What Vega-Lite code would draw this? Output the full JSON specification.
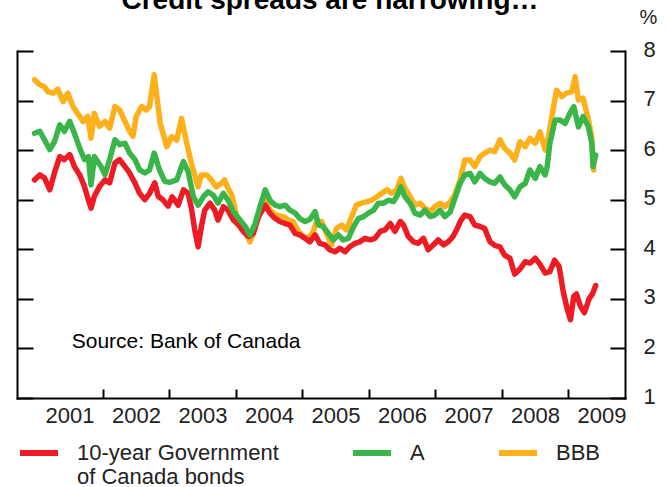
{
  "$schema": "https://vega.github.io/schema/vega-lite/v6.json",
  "width": 608,
  "height": 347,
  "autosize": {"type": "none"},
  "padding": {"left": 17, "top": 51, "right": 42, "bottom": 89},
  "background": "white",
  "title": {"text": "Credit spreads are narrowing…", "font": "Liberation Sans", "fontSize": 28, "fontWeight": "bold", "color": "black", "anchor": "middle", "offset": -30, "baseline": "alphabetic", "dx": 9},
  "config": {"view": {"stroke": null}, "font": "Liberation Sans"},
  "datasets": {
    "gov": [
      {"t": 2000.97, "v": 5.40}, {"t": 2001.05, "v": 5.50}, {"t": 2001.12, "v": 5.44}, {"t": 2001.20, "v": 5.20},
      {"t": 2001.27, "v": 5.54}, {"t": 2001.35, "v": 5.87}, {"t": 2001.42, "v": 5.81}, {"t": 2001.50, "v": 5.91},
      {"t": 2001.57, "v": 5.67}, {"t": 2001.65, "v": 5.50}, {"t": 2001.72, "v": 5.27}, {"t": 2001.78, "v": 5.00},
      {"t": 2001.82, "v": 4.83}, {"t": 2001.87, "v": 5.07}, {"t": 2001.95, "v": 5.27}, {"t": 2002.03, "v": 5.40},
      {"t": 2002.10, "v": 5.34}, {"t": 2002.18, "v": 5.74}, {"t": 2002.25, "v": 5.81}, {"t": 2002.33, "v": 5.67},
      {"t": 2002.40, "v": 5.54}, {"t": 2002.48, "v": 5.34}, {"t": 2002.55, "v": 5.13}, {"t": 2002.63, "v": 5.00},
      {"t": 2002.70, "v": 5.13}, {"t": 2002.78, "v": 5.34}, {"t": 2002.83, "v": 5.07}, {"t": 2002.90, "v": 5.00},
      {"t": 2002.98, "v": 4.87}, {"t": 2003.04, "v": 5.06}, {"t": 2003.13, "v": 4.89}, {"t": 2003.21, "v": 5.20},
      {"t": 2003.28, "v": 5.13}, {"t": 2003.33, "v": 4.83}, {"t": 2003.38, "v": 4.39}, {"t": 2003.43, "v": 4.05},
      {"t": 2003.48, "v": 4.46}, {"t": 2003.53, "v": 4.79}, {"t": 2003.61, "v": 4.93}, {"t": 2003.68, "v": 4.79},
      {"t": 2003.73, "v": 4.59}, {"t": 2003.81, "v": 4.86}, {"t": 2003.88, "v": 4.79}, {"t": 2003.96, "v": 4.59},
      {"t": 2004.04, "v": 4.49}, {"t": 2004.11, "v": 4.36}, {"t": 2004.19, "v": 4.26}, {"t": 2004.26, "v": 4.32},
      {"t": 2004.34, "v": 4.66}, {"t": 2004.44, "v": 4.89}, {"t": 2004.51, "v": 4.73}, {"t": 2004.59, "v": 4.62},
      {"t": 2004.66, "v": 4.56}, {"t": 2004.74, "v": 4.52}, {"t": 2004.81, "v": 4.49}, {"t": 2004.89, "v": 4.32},
      {"t": 2004.96, "v": 4.29}, {"t": 2005.04, "v": 4.22}, {"t": 2005.11, "v": 4.15}, {"t": 2005.19, "v": 4.29},
      {"t": 2005.26, "v": 4.12}, {"t": 2005.34, "v": 4.09}, {"t": 2005.41, "v": 3.99}, {"t": 2005.49, "v": 3.95},
      {"t": 2005.56, "v": 4.02}, {"t": 2005.64, "v": 3.95}, {"t": 2005.71, "v": 4.05}, {"t": 2005.79, "v": 4.12},
      {"t": 2005.86, "v": 4.15}, {"t": 2005.94, "v": 4.22}, {"t": 2006.02, "v": 4.19}, {"t": 2006.09, "v": 4.22},
      {"t": 2006.17, "v": 4.36}, {"t": 2006.24, "v": 4.39}, {"t": 2006.32, "v": 4.52}, {"t": 2006.39, "v": 4.36},
      {"t": 2006.47, "v": 4.56}, {"t": 2006.52, "v": 4.49}, {"t": 2006.59, "v": 4.26}, {"t": 2006.67, "v": 4.15},
      {"t": 2006.74, "v": 4.12}, {"t": 2006.82, "v": 4.22}, {"t": 2006.89, "v": 3.99}, {"t": 2006.97, "v": 4.09},
      {"t": 2007.04, "v": 4.19}, {"t": 2007.12, "v": 4.09}, {"t": 2007.19, "v": 4.15}, {"t": 2007.26, "v": 4.25},
      {"t": 2007.32, "v": 4.40}, {"t": 2007.38, "v": 4.58}, {"t": 2007.44, "v": 4.69}, {"t": 2007.52, "v": 4.66},
      {"t": 2007.59, "v": 4.49}, {"t": 2007.67, "v": 4.46}, {"t": 2007.74, "v": 4.42}, {"t": 2007.82, "v": 4.15},
      {"t": 2007.89, "v": 4.08}, {"t": 2007.97, "v": 4.05}, {"t": 2008.04, "v": 3.88}, {"t": 2008.12, "v": 3.82},
      {"t": 2008.19, "v": 3.50}, {"t": 2008.27, "v": 3.60}, {"t": 2008.35, "v": 3.75}, {"t": 2008.42, "v": 3.72},
      {"t": 2008.50, "v": 3.82}, {"t": 2008.57, "v": 3.70}, {"t": 2008.65, "v": 3.52}, {"t": 2008.72, "v": 3.55},
      {"t": 2008.79, "v": 3.78}, {"t": 2008.86, "v": 3.65}, {"t": 2008.92, "v": 3.15}, {"t": 2008.98, "v": 2.80},
      {"t": 2009.03, "v": 2.58}, {"t": 2009.08, "v": 3.05}, {"t": 2009.12, "v": 3.10}, {"t": 2009.18, "v": 2.85},
      {"t": 2009.24, "v": 2.72}, {"t": 2009.31, "v": 3.00}, {"t": 2009.36, "v": 3.10}, {"t": 2009.41, "v": 3.27}
    ],
    "a": [
      {"t": 2000.97, "v": 6.34}, {"t": 2001.05, "v": 6.38}, {"t": 2001.12, "v": 6.21}, {"t": 2001.20, "v": 6.01},
      {"t": 2001.27, "v": 6.17}, {"t": 2001.35, "v": 6.51}, {"t": 2001.42, "v": 6.38}, {"t": 2001.50, "v": 6.58},
      {"t": 2001.57, "v": 6.34}, {"t": 2001.65, "v": 6.04}, {"t": 2001.72, "v": 5.81}, {"t": 2001.78, "v": 5.87},
      {"t": 2001.82, "v": 5.30}, {"t": 2001.87, "v": 5.87}, {"t": 2001.97, "v": 5.67}, {"t": 2002.03, "v": 5.50},
      {"t": 2002.10, "v": 5.81}, {"t": 2002.18, "v": 6.21}, {"t": 2002.25, "v": 6.11}, {"t": 2002.33, "v": 6.14},
      {"t": 2002.40, "v": 5.94}, {"t": 2002.48, "v": 5.81}, {"t": 2002.55, "v": 5.60}, {"t": 2002.63, "v": 5.54},
      {"t": 2002.70, "v": 5.60}, {"t": 2002.77, "v": 5.94}, {"t": 2002.85, "v": 5.60}, {"t": 2002.93, "v": 5.37},
      {"t": 2003.00, "v": 5.35}, {"t": 2003.11, "v": 5.40}, {"t": 2003.21, "v": 5.77}, {"t": 2003.28, "v": 5.57},
      {"t": 2003.36, "v": 5.06}, {"t": 2003.43, "v": 4.89}, {"t": 2003.51, "v": 5.06}, {"t": 2003.58, "v": 5.16},
      {"t": 2003.66, "v": 5.09}, {"t": 2003.73, "v": 4.93}, {"t": 2003.81, "v": 5.13}, {"t": 2003.88, "v": 4.99},
      {"t": 2003.96, "v": 4.76}, {"t": 2004.06, "v": 4.59}, {"t": 2004.14, "v": 4.46}, {"t": 2004.21, "v": 4.29},
      {"t": 2004.29, "v": 4.52}, {"t": 2004.36, "v": 4.86}, {"t": 2004.44, "v": 5.20}, {"t": 2004.51, "v": 4.99},
      {"t": 2004.59, "v": 4.89}, {"t": 2004.66, "v": 4.86}, {"t": 2004.74, "v": 4.89}, {"t": 2004.81, "v": 4.79},
      {"t": 2004.89, "v": 4.73}, {"t": 2004.96, "v": 4.62}, {"t": 2005.04, "v": 4.56}, {"t": 2005.11, "v": 4.60},
      {"t": 2005.19, "v": 4.76}, {"t": 2005.24, "v": 4.49}, {"t": 2005.31, "v": 4.46}, {"t": 2005.39, "v": 4.32},
      {"t": 2005.46, "v": 4.19}, {"t": 2005.54, "v": 4.29}, {"t": 2005.61, "v": 4.19}, {"t": 2005.69, "v": 4.22},
      {"t": 2005.77, "v": 4.46}, {"t": 2005.84, "v": 4.62}, {"t": 2005.92, "v": 4.66}, {"t": 2005.99, "v": 4.73},
      {"t": 2006.07, "v": 4.79}, {"t": 2006.14, "v": 4.93}, {"t": 2006.22, "v": 4.93}, {"t": 2006.29, "v": 4.99},
      {"t": 2006.37, "v": 4.96}, {"t": 2006.43, "v": 5.10}, {"t": 2006.48, "v": 5.26}, {"t": 2006.54, "v": 5.06},
      {"t": 2006.62, "v": 4.93}, {"t": 2006.69, "v": 4.73}, {"t": 2006.77, "v": 4.69}, {"t": 2006.84, "v": 4.79},
      {"t": 2006.92, "v": 4.66}, {"t": 2006.99, "v": 4.69}, {"t": 2007.07, "v": 4.79}, {"t": 2007.14, "v": 4.66},
      {"t": 2007.22, "v": 4.75}, {"t": 2007.29, "v": 5.02}, {"t": 2007.37, "v": 5.33}, {"t": 2007.44, "v": 5.50},
      {"t": 2007.52, "v": 5.53}, {"t": 2007.59, "v": 5.36}, {"t": 2007.67, "v": 5.53}, {"t": 2007.74, "v": 5.43},
      {"t": 2007.82, "v": 5.36}, {"t": 2007.89, "v": 5.33}, {"t": 2007.97, "v": 5.46}, {"t": 2008.04, "v": 5.30},
      {"t": 2008.12, "v": 5.20}, {"t": 2008.19, "v": 5.06}, {"t": 2008.27, "v": 5.26}, {"t": 2008.35, "v": 5.33},
      {"t": 2008.42, "v": 5.60}, {"t": 2008.50, "v": 5.43}, {"t": 2008.57, "v": 5.67}, {"t": 2008.65, "v": 5.50},
      {"t": 2008.68, "v": 5.67}, {"t": 2008.72, "v": 6.14}, {"t": 2008.80, "v": 6.61}, {"t": 2008.87, "v": 6.61},
      {"t": 2008.95, "v": 6.54}, {"t": 2009.02, "v": 6.74}, {"t": 2009.08, "v": 6.88}, {"t": 2009.15, "v": 6.47},
      {"t": 2009.22, "v": 6.68}, {"t": 2009.30, "v": 6.47}, {"t": 2009.35, "v": 6.14}, {"t": 2009.37, "v": 5.67},
      {"t": 2009.41, "v": 5.90}
    ],
    "bbb": [
      {"t": 2000.97, "v": 7.42}, {"t": 2001.05, "v": 7.32}, {"t": 2001.12, "v": 7.28}, {"t": 2001.17, "v": 7.18},
      {"t": 2001.25, "v": 7.15}, {"t": 2001.32, "v": 7.23}, {"t": 2001.40, "v": 6.98}, {"t": 2001.47, "v": 7.15},
      {"t": 2001.55, "v": 6.88}, {"t": 2001.62, "v": 6.74}, {"t": 2001.70, "v": 6.58}, {"t": 2001.77, "v": 6.68},
      {"t": 2001.82, "v": 6.24}, {"t": 2001.87, "v": 6.74}, {"t": 2001.95, "v": 6.48}, {"t": 2002.03, "v": 6.58},
      {"t": 2002.10, "v": 6.44}, {"t": 2002.18, "v": 6.88}, {"t": 2002.25, "v": 6.81}, {"t": 2002.33, "v": 6.58},
      {"t": 2002.40, "v": 6.38}, {"t": 2002.45, "v": 6.28}, {"t": 2002.50, "v": 6.68}, {"t": 2002.58, "v": 6.88},
      {"t": 2002.65, "v": 6.81}, {"t": 2002.70, "v": 6.88}, {"t": 2002.77, "v": 7.52}, {"t": 2002.86, "v": 6.54},
      {"t": 2002.96, "v": 6.07}, {"t": 2003.03, "v": 6.27}, {"t": 2003.11, "v": 6.20}, {"t": 2003.18, "v": 6.64},
      {"t": 2003.26, "v": 6.14}, {"t": 2003.33, "v": 5.73}, {"t": 2003.43, "v": 5.26}, {"t": 2003.48, "v": 5.50},
      {"t": 2003.56, "v": 5.50}, {"t": 2003.63, "v": 5.40}, {"t": 2003.70, "v": 5.26}, {"t": 2003.78, "v": 5.33},
      {"t": 2003.83, "v": 5.40}, {"t": 2003.88, "v": 5.23}, {"t": 2003.94, "v": 5.09}, {"t": 2004.01, "v": 4.66},
      {"t": 2004.09, "v": 4.39}, {"t": 2004.16, "v": 4.29}, {"t": 2004.21, "v": 4.15}, {"t": 2004.26, "v": 4.32},
      {"t": 2004.34, "v": 4.73}, {"t": 2004.44, "v": 5.06}, {"t": 2004.51, "v": 4.79}, {"t": 2004.61, "v": 4.69},
      {"t": 2004.71, "v": 4.66}, {"t": 2004.79, "v": 4.59}, {"t": 2004.86, "v": 4.56}, {"t": 2004.94, "v": 4.36},
      {"t": 2005.01, "v": 4.26}, {"t": 2005.09, "v": 4.22}, {"t": 2005.16, "v": 4.35}, {"t": 2005.21, "v": 4.56},
      {"t": 2005.29, "v": 4.56}, {"t": 2005.36, "v": 4.32}, {"t": 2005.44, "v": 4.09}, {"t": 2005.51, "v": 4.42},
      {"t": 2005.59, "v": 4.49}, {"t": 2005.66, "v": 4.39}, {"t": 2005.74, "v": 4.66}, {"t": 2005.81, "v": 4.89},
      {"t": 2005.89, "v": 4.93}, {"t": 2005.97, "v": 4.96}, {"t": 2006.04, "v": 4.99}, {"t": 2006.12, "v": 5.06},
      {"t": 2006.19, "v": 5.13}, {"t": 2006.27, "v": 5.20}, {"t": 2006.34, "v": 5.13}, {"t": 2006.42, "v": 5.20},
      {"t": 2006.48, "v": 5.43}, {"t": 2006.54, "v": 5.23}, {"t": 2006.62, "v": 5.06}, {"t": 2006.69, "v": 4.89},
      {"t": 2006.77, "v": 4.93}, {"t": 2006.84, "v": 4.83}, {"t": 2006.92, "v": 4.76}, {"t": 2006.99, "v": 4.86},
      {"t": 2007.07, "v": 4.93}, {"t": 2007.14, "v": 4.86}, {"t": 2007.22, "v": 4.95}, {"t": 2007.29, "v": 5.10},
      {"t": 2007.37, "v": 5.40}, {"t": 2007.44, "v": 5.80}, {"t": 2007.52, "v": 5.80}, {"t": 2007.59, "v": 5.67},
      {"t": 2007.67, "v": 5.87}, {"t": 2007.74, "v": 5.94}, {"t": 2007.82, "v": 6.00}, {"t": 2007.89, "v": 5.97},
      {"t": 2007.97, "v": 6.21}, {"t": 2008.04, "v": 6.04}, {"t": 2008.12, "v": 5.94}, {"t": 2008.19, "v": 5.80},
      {"t": 2008.27, "v": 6.17}, {"t": 2008.35, "v": 6.07}, {"t": 2008.42, "v": 6.24}, {"t": 2008.50, "v": 6.14},
      {"t": 2008.57, "v": 6.37}, {"t": 2008.65, "v": 6.00}, {"t": 2008.70, "v": 6.27}, {"t": 2008.75, "v": 6.68},
      {"t": 2008.82, "v": 7.21}, {"t": 2008.90, "v": 7.08}, {"t": 2008.97, "v": 7.15}, {"t": 2009.05, "v": 7.18},
      {"t": 2009.10, "v": 7.48}, {"t": 2009.15, "v": 7.01}, {"t": 2009.22, "v": 7.05}, {"t": 2009.30, "v": 6.61},
      {"t": 2009.35, "v": 6.27}, {"t": 2009.38, "v": 5.60}
    ],
    "note": [{"t": 2001.53, "v": 2.13, "text": "Source: Bank of Canada"}]
  },
  "encoding": {
    "x": {
      "field": "t", "type": "quantitative",
      "scale": {"domain": [2000.707, 2009.85], "nice": false, "zero": false},
      "axis": {
        "values": [2001, 2002, 2003, 2004, 2005, 2006, 2007, 2008, 2009],
        "format": "d", "title": null, "grid": false,
        "domainColor": "black", "domainWidth": 2, "domainCap": "square",
        "tickColor": "black", "tickWidth": 2, "tickSize": -9,
        "tickOpacity": {"condition": {"test": "datum.value < 2001.5", "value": 0}, "value": 1},
        "labelOffset": 33, "labelPadding": 16, "labelFont": "Liberation Sans", "labelFontSize": 22,
        "labelColor": "#222222", "labelFlush": false, "labelOverlap": false, "labelBound": false
      }
    }
  },
  "layer": [
    {
      "data": {"name": "bbb"},
      "mark": {"type": "line", "strokeWidth": 5.5, "strokeJoin": "round", "strokeCap": "round"},
      "encoding": {
        "y": {
          "field": "v", "type": "quantitative",
          "scale": {"domain": [1, 8], "nice": false, "zero": false},
          "axis": {"orient": "left", "values": [1, 2, 3, 4, 5, 6, 7, 8], "labels": false, "title": null, "grid": false,
                   "domainColor": "black", "domainWidth": 2, "domainCap": "square", "tickColor": "black", "tickWidth": 2, "tickSize": -16}
        },
        "color": {
          "datum": "BBB", "type": "nominal",
          "scale": {"domain": ["10-year Government of Canada bonds", "A", "BBB"], "range": ["#ED1C24", "#3AB54A", "#FDB01A"]},
          "legend": {"orient": "none", "legendX": 0, "legendY": 380, "direction": "horizontal", "title": null,
                     "symbolType": "stroke", "symbolSize": 1444, "symbolStrokeWidth": 6,
                     "labelFont": "Liberation Sans", "labelFontSize": 22, "labelColor": "#222222", "labelOffset": 16,
                     "columnPadding": 62, "labelLimit": 400, "labelBaseline": "middle",
                     "labelExpr": "datum.label == '10-year Government of Canada bonds' ? ['10-year Government', 'of Canada bonds'] : [datum.label, '']"}
        }
      }
    },
    {
      "data": {"name": "gov"},
      "mark": {"type": "line", "strokeWidth": 5.5, "strokeJoin": "round", "strokeCap": "round"},
      "encoding": {
        "y": {
          "field": "v", "type": "quantitative",
          "scale": {"domain": [1, 8], "nice": false, "zero": false},
          "axis": {"orient": "right", "values": [1, 2, 3, 4, 5, 6, 7, 8], "format": "d", "grid": false,
                   "title": "%", "titleAngle": 0, "titleX": 23, "titleY": -34, "titleFont": "Liberation Sans", "titleFontSize": 20,
                   "titleFontWeight": "normal", "titleColor": "#222222", "titleAlign": "center", "titleBaseline": "middle",
                   "domainColor": "black", "domainWidth": 2, "domainCap": "square", "tickColor": "black", "tickWidth": 2, "tickSize": -15,
                   "labelFont": "Liberation Sans", "labelFontSize": 22, "labelColor": "#222222", "labelPadding": 33, "labelOffset": -2}
        },
        "color": {"datum": "10-year Government of Canada bonds", "type": "nominal"}
      }
    },
    {
      "data": {"name": "a"},
      "mark": {"type": "line", "strokeWidth": 5.5, "strokeJoin": "round", "strokeCap": "round"},
      "encoding": {
        "y": {"field": "v", "type": "quantitative", "axis": null},
        "color": {"datum": "A", "type": "nominal"}
      }
    },
    {
      "data": {"name": "note"},
      "mark": {"type": "text", "align": "left", "baseline": "middle", "font": "Liberation Sans", "fontSize": 21, "color": "black"},
      "encoding": {
        "y": {"field": "v", "type": "quantitative", "axis": null},
        "text": {"field": "text"}
      }
    }
  ],
  "resolve": {"axis": {"y": "independent"}}
}
